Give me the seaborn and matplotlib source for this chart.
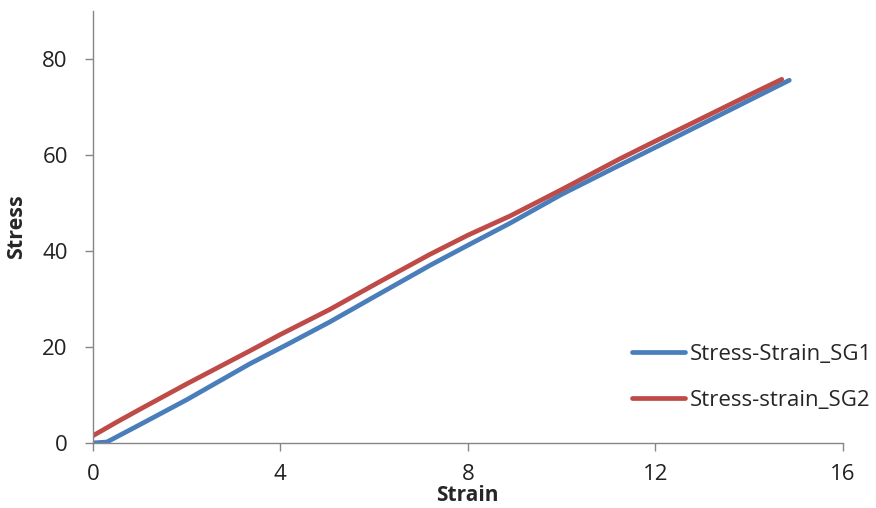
import matplotlib
matplotlib.use("Agg")
import matplotlib.pyplot as plt
import seaborn as sns
import pandas as pd

series_names = ["Stress-Strain_SG1", "Stress-strain_SG2"]

sg1_strain = [0, 0.3, 1.0, 2.0, 3.35, 4.2, 5.05, 6.1, 7.19, 8.0, 8.9, 10.0, 11.24, 12.0, 12.94, 14.0, 14.86]
sg1_stress = [0, 0.2, 3.8, 9.0, 16.5, 20.8, 25.2, 31.0, 37.0, 41.2, 45.8, 51.8, 57.9, 61.6, 66.2, 71.4, 75.6]

sg2_strain = [0, 0.5, 1.0, 2.0, 3.35, 4.0, 5.05, 6.1, 7.19, 8.0, 8.9, 10.0, 11.24, 12.0, 12.94, 14.0, 14.7]
sg2_stress = [1.5, 4.3, 7.0, 12.3, 19.2, 22.6, 27.8, 33.5, 39.3, 43.3, 47.3, 52.8, 59.2, 62.9, 67.4, 72.5, 75.8]

x_ticks = [0, 4, 8, 12, 16]
y_ticks = [0, 20, 40, 60, 80]

df = pd.DataFrame({
    "Strain": sg1_strain + sg2_strain,
    "Stress": sg1_stress + sg2_stress,
    "series": [series_names[0]] * len(sg1_strain) + [series_names[1]] * len(sg2_strain),
})

sns.set_style("white")
plt.rcParams["font.family"] = ["Open Sans", "DejaVu Sans"]

fig = plt.figure(figsize=(8.76, 5.08), dpi=100)
ax = fig.add_axes([0.106, 0.128, 0.856, 0.850])

palette = {series_names[0]: "#4A7EBB", series_names[1]: "#BE4B48"}
sns.lineplot(data=df, x="Strain", y="Stress", hue="series", palette=palette,
             sort=False, linewidth=3.4, ax=ax, estimator=None)

ax.set_xlim(0, 16)
ax.set_ylim(0, 90)
ax.set_xticks(x_ticks)
ax.set_yticks(y_ticks)
ax.tick_params(axis="both", which="major", direction="out", length=6, width=1,
               color="#868686", labelsize=16, labelcolor="#222222", left=True, bottom=True)
ax.tick_params(axis="x", pad=9)
ax.tick_params(axis="y", pad=12)
for s in ["top", "right"]:
    ax.spines[s].set_visible(False)
for s in ["left", "bottom"]:
    ax.spines[s].set_color("#868686")
    ax.spines[s].set_linewidth(1)

ax.set_xlabel("Strain", fontsize=15, fontweight="bold", labelpad=0)
ax.set_ylabel("Stress", fontsize=15.5, fontweight="bold", labelpad=11)

handles, labels = ax.get_legend_handles_labels()
leg = ax.legend(handles, labels, loc="center left", bbox_to_anchor=(0.7215, 0.257),
                bbox_transform=fig.transFigure, frameon=False, fontsize=16,
                handlelength=2.39, handletextpad=0.22, labelspacing=1.12, borderpad=0,
                borderaxespad=0)
for line in leg.get_lines():
    line.set_linewidth(3.4)

fig.savefig("out.png", dpi=100)
